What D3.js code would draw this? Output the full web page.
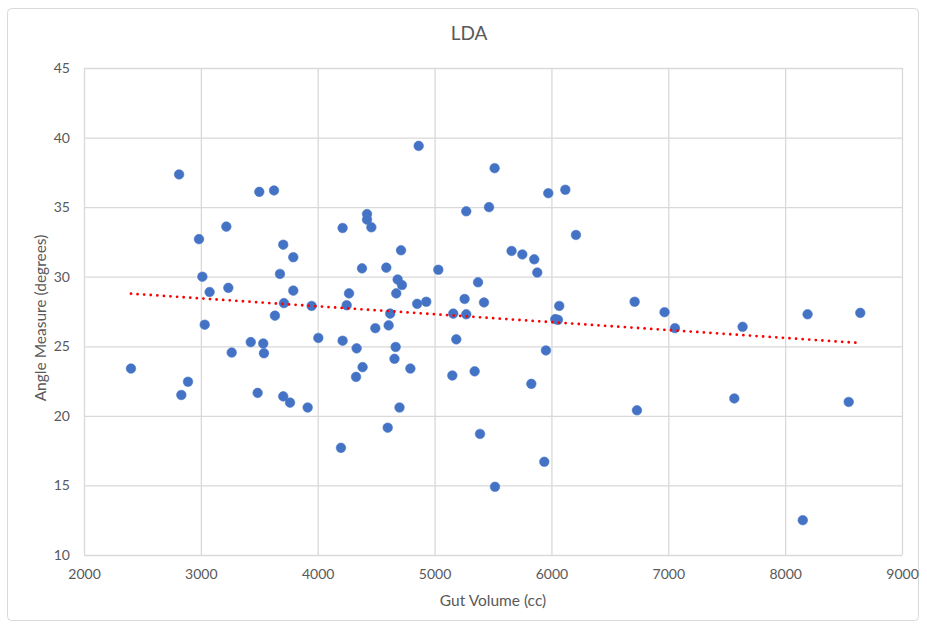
<!DOCTYPE html>
<html>
<head>
<meta charset="utf-8">
<script src="https://cdn.jsdelivr.net/npm/d3@7"></script>
<style>
  body { margin: 0; background: #fff; }
  svg { display: block; font-family: Lato, "Open Sans", sans-serif; }
</style>
</head>
<body>
<svg class="chart"></svg>
<script>
// gut volume (cc) and LDA angle (degrees)
var gutVolume = [
  2402, 2814, 2833, 2890, 2984, 3013, 3033, 3075, 3218, 3235,
  3264, 3427, 3486, 3500, 3534, 3540, 3626, 3634, 3677, 3705,
  3705, 3711, 3763, 3791, 3791, 3914, 3948, 4005, 4199, 4213,
  4213, 4248, 4268, 4328, 4333, 4379, 4384, 4422, 4422, 4459,
  4493, 4587, 4599, 4607, 4620, 4657, 4667, 4672, 4684, 4700,
  4713, 4721, 4793, 4851, 4864, 4929, 5032, 5152, 5160, 5186,
  5257, 5271, 5271, 5343, 5372, 5389, 5423, 5466, 5514, 5517,
  5659, 5751, 5828, 5853, 5879, 5939, 5953, 5973, 6033, 6056,
  6067, 6119, 6210, 6712, 6732, 6968, 7057, 7565, 7636, 8151,
  8192, 8544, 8643
];
var angle = [
  23.4, 37.35, 21.5, 22.45, 32.7, 30.0, 26.55, 28.9, 33.6, 29.2,
  24.55, 25.3, 21.65, 36.1, 25.2, 24.5, 36.2, 27.2, 30.2, 32.3,
  21.4, 28.1, 20.95, 31.4, 29.0, 20.6, 27.9, 25.6, 17.7, 33.5,
  25.4, 27.95, 28.8, 22.8, 24.85, 30.6, 23.5, 34.5, 34.1, 33.55,
  26.3, 30.65, 19.15, 26.5, 27.35, 24.1, 24.95, 28.8, 29.8, 20.6,
  31.9, 29.4, 23.4, 28.05, 39.4, 28.2, 30.5, 22.9, 27.35, 25.5,
  28.4, 34.7, 27.3, 23.2, 29.6, 18.7, 28.15, 35.0, 37.8, 14.9,
  31.85, 31.6, 22.3, 31.25, 30.3, 16.7, 24.7, 36.0, 26.95, 26.9,
  27.9, 36.25, 33.0, 28.2, 20.4, 27.45, 26.3, 21.25, 26.4, 12.5,
  27.3, 21.0, 27.4
];
var xTicks = [2000, 3000, 4000, 5000, 6000, 7000, 8000, 9000];
var yTicks = [10, 15, 20, 25, 30, 35, 40, 45];

var data = gutVolume.map(function(v, i) { return { x: v, y: angle[i] }; });

var width = 927, height = 628;
var margin = { top: 68, right: 25, bottom: 73, left: 84 };
var w = 902 - margin.left, h = 555 - margin.top;

var svg = d3.select('.chart')
    .attr('width', width)
    .attr('height', height);

// outer chart border
svg.append('rect')
    .attr('x', 7.5).attr('y', 8.5)
    .attr('width', 911).attr('height', 612)
    .attr('rx', 4)
    .attr('fill', '#fff')
    .attr('stroke', '#d9d9d9');

svg.append('text')
    .attr('x', 469).attr('y', 40)
    .attr('text-anchor', 'middle')
    .attr('font-size', 19)
    .attr('fill', '#595959')
    .text('LDA');

var chart = svg.append('g')
    .attr('transform', `translate(${margin.left}, ${margin.top})`);

var x = d3.scaleLinear().domain([2000, 9000]).range([0, w]);
var y = d3.scaleLinear().domain([10, 45]).range([h, 0]);

// gridlines
chart.append('g')
    .call(d3.axisBottom(x).tickValues(xTicks).tickSize(-h).tickFormat(''))
    .attr('transform', `translate(0, ${h})`)
    .call(function(g) { g.select('.domain').remove(); })
    .selectAll('line').attr('stroke', '#d9d9d9').attr('stroke-width', 1.3);

chart.append('g')
    .call(d3.axisLeft(y).tickValues(yTicks).tickSize(-w).tickFormat(''))
    .call(function(g) { g.select('.domain').remove(); })
    .selectAll('line').attr('stroke', '#d9d9d9').attr('stroke-width', 1.3);

// tick labels
var xAxis = chart.append('g')
    .attr('transform', `translate(0, ${h})`)
    .call(d3.axisBottom(x).tickValues(xTicks).tickSize(0).tickPadding(14).tickFormat(d3.format('d')));
xAxis.select('.domain').remove();
xAxis.selectAll('text').attr('font-size', 14).attr('fill', '#595959').attr('font-family', 'Lato, sans-serif');

var yAxis = chart.append('g')
    .call(d3.axisLeft(y).tickValues(yTicks).tickSize(0).tickPadding(14));
yAxis.select('.domain').remove();
yAxis.selectAll('text').attr('font-size', 14).attr('fill', '#595959').attr('font-family', 'Lato, sans-serif');

// axis titles
svg.append('text')
    .attr('x', 493).attr('y', 606)
    .attr('text-anchor', 'middle')
    .attr('font-size', 15.5)
    .attr('fill', '#595959')
    .text('Gut Volume (cc)');

svg.append('text')
    .attr('transform', 'translate(46, 318) rotate(-90)')
    .attr('text-anchor', 'middle')
    .attr('font-size', 15.5)
    .attr('fill', '#595959')
    .text('Angle Measure (degrees)');

// points
chart.selectAll('.dot')
    .data(data)
    .enter().append('circle')
    .attr('class', 'dot')
    .attr('cx', function(d) { return x(d.x); })
    .attr('cy', function(d) { return y(d.y); })
    .attr('r', 4.8)
    .attr('fill', '#4472c4')
    .attr('stroke', '#4a78c8')
    .attr('stroke-width', 0.6);

// linear trendline (least squares over the points)
var mx = d3.mean(data, function(d) { return d.x; });
var my = d3.mean(data, function(d) { return d.y; });
var sxy = d3.sum(data, function(d) { return (d.x - mx) * (d.y - my); });
var sxx = d3.sum(data, function(d) { return (d.x - mx) * (d.x - mx); });
var slope = sxy / sxx, intercept = my - slope * mx;
var ext = d3.extent(gutVolume);

chart.append('path')
    .datum(ext.map(function(v) { return { x: v, y: intercept + slope * v }; }))
    .attr('d', d3.line().x(function(d) { return x(d.x); }).y(function(d) { return y(d.y); }))
    .attr('fill', 'none')
    .attr('stroke', '#ff0000')
    .attr('stroke-width', 2.8)
    .attr('stroke-linecap', 'round')
    .attr('stroke-dasharray', '0,6.6');
</script>
</body>
</html>
